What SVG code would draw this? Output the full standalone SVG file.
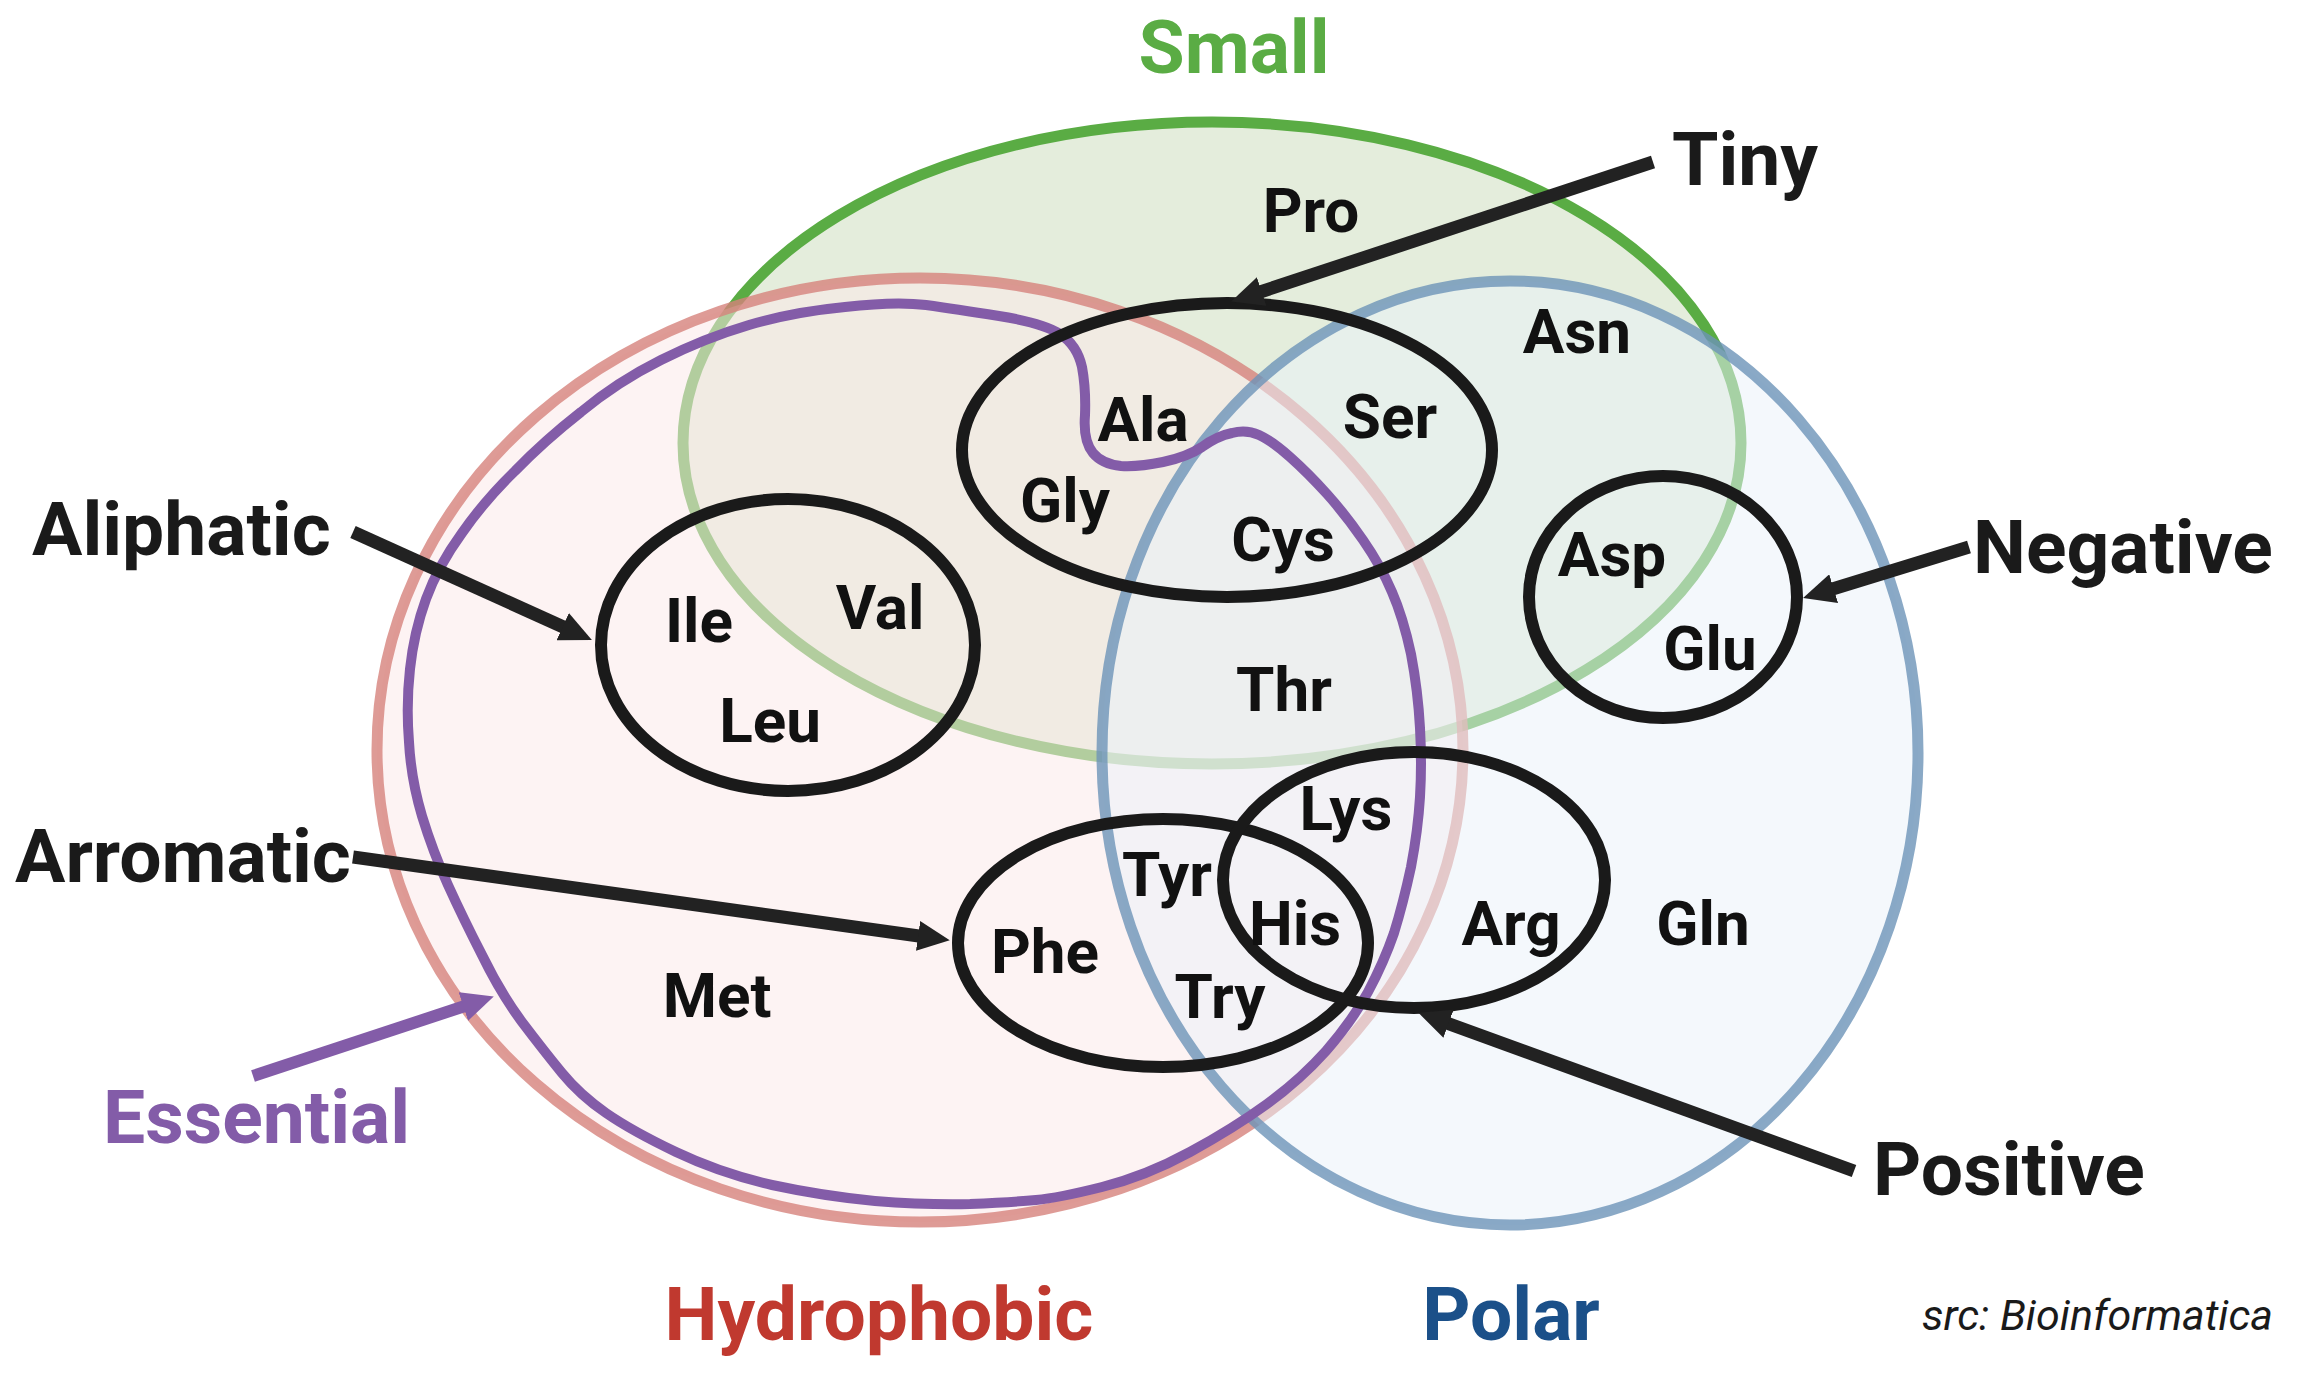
<svg xmlns="http://www.w3.org/2000/svg" width="2304" height="1398" viewBox="0 0 2304 1398">
<defs>
<style>
text { font-family: Roboto, "Liberation Sans", sans-serif; font-weight: 700; }
.aa { font-size: 62px; fill: #111; text-anchor: middle; }
.lbl { font-size: 75px; fill: #1a1a1a; }
.grp { fill: none; stroke: #1a1a1a; stroke-width: 12; }
.arr { stroke: #222; stroke-width: 13; fill: none; marker-end: url(#ah); }
.arrp { stroke: #835ca8; stroke-width: 12; fill: none; marker-end: url(#ahp); }
</style>
<marker id="ah" markerUnits="userSpaceOnUse" markerWidth="32" markerHeight="30" refX="8" refY="15" orient="auto"><path d="M0,0 L32,15 L0,30 z" fill="#222"/></marker>
<marker id="ahp" markerUnits="userSpaceOnUse" markerWidth="32" markerHeight="30" refX="8" refY="15" orient="auto"><path d="M0,0 L32,15 L0,30 z" fill="#835ca8"/></marker>
</defs>
<rect width="2304" height="1398" fill="#ffffff"/>

<g id="small">
<ellipse cx="1212" cy="443" rx="529" ry="321" fill="#e4eddc" stroke="#5aac44" stroke-width="11"/>
<text x="1234" y="73" class="lbl" text-anchor="middle" style="fill:#5aac44">Small</text>
</g>
<g id="hydrophobic">
<ellipse cx="920" cy="750" rx="543" ry="472" fill="#fbe9e9" fill-opacity="0.55" stroke="#d6827c" stroke-opacity="0.8" stroke-width="11"/>
<text x="879" y="1340" class="lbl" text-anchor="middle" style="fill:#c0392f">Hydrophobic</text>
</g>
<g id="polar">
<ellipse cx="1510" cy="753" rx="408" ry="472" fill="#eaf2f9" fill-opacity="0.53" stroke="#6d93b8" stroke-opacity="0.8" stroke-width="11"/>
<text x="1511" y="1340" class="lbl" text-anchor="middle" style="fill:#1b5089">Polar</text>
</g>

<g id="essential">
<path d="M845,307 Q896,301 926,305 Q955,309 999,316 Q1043,323 1060,334 Q1077,345 1082,367 Q1086,389 1085,415 Q1083,441 1093,453 Q1102,464 1121,466 Q1139,467 1163,462 Q1187,457 1202,447 Q1217,436 1232,433 Q1246,429 1259,435 Q1272,441 1290,457 Q1308,473 1327,494 Q1345,514 1363,540 Q1381,566 1392,592 Q1403,617 1411,654 Q1418,691 1420,728 Q1422,764 1420,797 Q1418,830 1411,867 Q1403,904 1394,933 Q1384,962 1368,992 Q1352,1021 1326,1051 Q1300,1080 1267,1104 Q1234,1128 1190,1152 Q1146,1176 1102,1187 Q1058,1198 1036,1200 Q1014,1202 970,1204 Q926,1205 875,1201 Q823,1196 772,1185 Q720,1173 676,1152 Q632,1131 606,1113 Q580,1095 562,1073 Q544,1051 522,1022 Q500,992 482,955 Q463,918 448,885 Q433,852 422,816 Q411,779 409,742 Q406,705 410,669 Q414,632 426,599 Q438,566 462,533 Q485,500 515,471 Q544,441 581,412 Q617,382 661,360 Q705,338 749,325 Q793,312 845,307 Z" fill="none" stroke="#835ca8" stroke-width="10" stroke-linejoin="round"/>
<text x="103" y="1143" class="lbl" style="fill:#835ca8">Essential</text>
</g>

<g id="tiny">
<ellipse cx="1227" cy="450" rx="265" ry="147" class="grp"/>
<text x="1672" y="185" class="lbl">Tiny</text>
</g>
<g id="aliphatic">
<ellipse cx="788" cy="645" rx="187" ry="146" class="grp"/>
<text x="32" y="555" class="lbl">Aliphatic</text>
</g>
<g id="negative">
<ellipse cx="1663" cy="597" rx="134" ry="121" class="grp"/>
<text x="1973" y="573" class="lbl">Negative</text>
</g>
<g id="aromatic">
<ellipse cx="1163" cy="943" rx="205" ry="124" class="grp"/>
<text x="15" y="882" class="lbl">Arromatic</text>
</g>
<g id="positive">
<ellipse cx="1414" cy="880" rx="191" ry="128" class="grp"/>
<text x="1873" y="1195" class="lbl">Positive</text>
</g>

<g id="connectors">
<line x1="1653" y1="162" x2="1254" y2="294" class="arr"/>
<line x1="353" y1="532" x2="570" y2="630" class="arr"/>
<line x1="1969" y1="547" x2="1826" y2="591" class="arr"/>
<line x1="353" y1="857" x2="926" y2="937" class="arr"/>
<line x1="1854" y1="1171" x2="1441" y2="1021" class="arr"/>
<line x1="253" y1="1076" x2="471" y2="1004" class="arrp"/>
</g>

<g id="amino-acids">
<text x="1311" y="232" class="aa">Pro</text>
<text x="1577" y="353" class="aa">Asn</text>
<text x="1143" y="441" class="aa">Ala</text>
<text x="1390" y="438" class="aa">Ser</text>
<text x="1065" y="522" class="aa">Gly</text>
<text x="1283" y="561" class="aa">Cys</text>
<text x="699" y="642" class="aa">Ile</text>
<text x="880" y="629" class="aa">Val</text>
<text x="770" y="742" class="aa">Leu</text>
<text x="1284" y="711" class="aa">Thr</text>
<text x="1612" y="576" class="aa">Asp</text>
<text x="1710" y="670" class="aa">Glu</text>
<text x="1346" y="830" class="aa">Lys</text>
<text x="1167" y="896" class="aa">Tyr</text>
<text x="1295" y="945" class="aa">His</text>
<text x="1511" y="945" class="aa">Arg</text>
<text x="1703" y="945" class="aa">Gln</text>
<text x="1045" y="973" class="aa">Phe</text>
<text x="717" y="1017" class="aa">Met</text>
<text x="1220" y="1018" class="aa">Try</text>
</g>

<text x="2273" y="1330" text-anchor="end" style="font-family:Roboto,'Liberation Sans',sans-serif;font-weight:400;font-style:italic;font-size:43px;fill:#1a1a1a">src: Bioinformatica</text>
</svg>
